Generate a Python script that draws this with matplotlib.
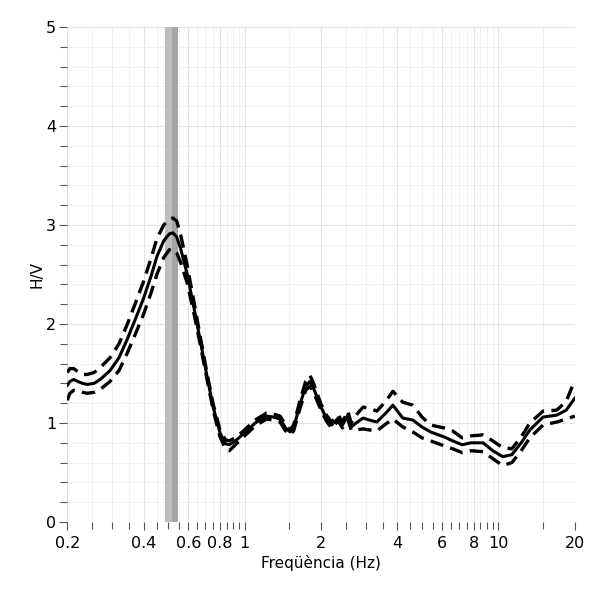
import matplotlib
matplotlib.use("Agg")
import matplotlib.pyplot as plt
from matplotlib.ticker import FixedLocator, NullFormatter

# H/V curve (frequency in Hz)
freq = [0.200, 0.205, 0.212, 0.220, 0.230, 0.240, 0.255, 0.270, 0.295, 0.320,
        0.344, 0.370, 0.400, 0.430, 0.451, 0.480, 0.505, 0.522, 0.540, 0.560,
        0.593, 0.630, 0.668, 0.710, 0.752, 0.800, 0.840, 0.870, 0.920, 1.000,
        1.100, 1.220, 1.300, 1.380, 1.450, 1.510, 1.560, 1.650, 1.740, 1.810,
        1.870, 2.000, 2.100, 2.200, 2.340, 2.430, 2.550, 2.630, 2.750, 2.930,
        3.100, 3.320, 3.600, 3.840, 4.200, 4.600, 5.000, 5.400, 6.100, 6.600,
        7.200, 7.800, 8.700, 9.500, 10.40, 11.30, 12.30, 13.30, 15.00, 17.00,
        18.50, 20.00]

hv_mean = [1.38, 1.42, 1.44, 1.42, 1.40, 1.39, 1.40, 1.44, 1.53, 1.66,
           1.84, 2.04, 2.26, 2.50, 2.68, 2.84, 2.91, 2.92, 2.88, 2.76,
           2.51, 2.18, 1.84, 1.48, 1.16, 0.90, 0.79, 0.78, 0.82, 0.90,
           1.00, 1.07, 1.06, 1.04, 0.95, 0.91, 0.95, 1.18, 1.37, 1.42,
           1.35, 1.16, 1.05, 0.98, 1.05, 0.98, 1.08, 0.96, 1.00, 1.05,
           1.03, 1.01, 1.10, 1.18, 1.05, 1.03, 0.96, 0.91, 0.86, 0.82,
           0.78, 0.80, 0.80, 0.72, 0.66, 0.68, 0.80, 0.93, 1.06, 1.08,
           1.13, 1.25]

hv_upper = [1.51, 1.55, 1.55, 1.52, 1.49, 1.49, 1.51, 1.56, 1.66, 1.80,
            1.99, 2.20, 2.43, 2.68, 2.86, 3.00, 3.06, 3.07, 3.04, 2.90,
            2.60, 2.24, 1.88, 1.51, 1.19, 0.93, 0.83, 0.82, 0.85, 0.93,
            1.03, 1.10, 1.09, 1.07, 0.98, 0.93, 0.98, 1.22, 1.42, 1.48,
            1.40, 1.19, 1.08, 1.01, 1.08, 1.01, 1.12, 1.00, 1.08, 1.16,
            1.15, 1.12, 1.22, 1.32, 1.21, 1.18, 1.06, 0.98, 0.95, 0.92,
            0.85, 0.87, 0.88, 0.82, 0.75, 0.74, 0.86, 1.00, 1.12, 1.13,
            1.22, 1.43]

hv_lower = [1.23, 1.30, 1.33, 1.32, 1.31, 1.30, 1.31, 1.34, 1.42, 1.53,
            1.70, 1.89, 2.10, 2.33, 2.50, 2.67, 2.75, 2.76, 2.72, 2.62,
            2.42, 2.12, 1.80, 1.45, 1.13, 0.86, 0.74, 0.72, 0.78, 0.87,
            0.97, 1.04, 1.03, 1.01, 0.92, 0.88, 0.92, 1.14, 1.33, 1.37,
            1.31, 1.13, 1.02, 0.95, 1.02, 0.95, 1.04, 0.93, 0.93, 0.94,
            0.93, 0.92, 0.99, 1.04, 0.96, 0.91, 0.85, 0.82, 0.77, 0.74,
            0.70, 0.72, 0.71, 0.64, 0.57, 0.60, 0.72, 0.85, 0.98, 1.01,
            1.04, 1.07]

# peak frequency and its spread (grey band)
f0_low = 0.486
f0 = 0.518
f0_high = 0.548

# tick positions / labels
x_major = [0.2, 0.4, 0.6, 0.8, 1, 2, 4, 6, 8, 10, 20]
x_major_labels = ["0.2", "0.4", "0.6", "0.8", "1", "2", "4", "6", "8", "10", "20"]
x_minor = [0.25, 0.3, 0.35, 0.45, 0.5, 0.55, 0.65, 0.7, 0.75, 0.85, 0.9, 0.95,
           1.5, 2.5, 3, 3.5, 4.5, 5, 5.5, 6.5, 7, 7.5, 8.5, 9, 9.5, 15]
y_major = [0, 1, 2, 3, 4, 5]
y_minor = [0.2, 0.4, 0.6, 0.8, 1.2, 1.4, 1.6, 1.8, 2.2, 2.4, 2.6, 2.8,
           3.2, 3.4, 3.6, 3.8, 4.2, 4.4, 4.6, 4.8]

fig = plt.figure(figsize=(6, 6), dpi=100)
ax = fig.add_axes([0.112, 0.13, 0.846, 0.825])

ax.set_xscale("log")
ax.set_xlim(0.2, 20)
ax.set_ylim(0, 5)

# grey band for f0
ax.axvspan(f0_low, f0, color="#bdbdbd", lw=0, zorder=1)
ax.axvspan(f0, f0_high, color="#a5a5a5", lw=0, zorder=1)

# curves
ax.plot(freq, hv_mean, color="black", lw=2.2, zorder=3)
ax.plot(freq, hv_upper, color="black", lw=2.4, ls=(0, (4, 2.2)), zorder=3)
ax.plot(freq, hv_lower, color="black", lw=2.4, ls=(0, (4, 2.2)), zorder=3)

# ticks
ax.xaxis.set_major_locator(FixedLocator(x_major))
ax.set_xticklabels(x_major_labels)
ax.xaxis.set_minor_locator(FixedLocator(x_minor))
ax.xaxis.set_minor_formatter(NullFormatter())
ax.yaxis.set_major_locator(FixedLocator(y_major))
ax.yaxis.set_minor_locator(FixedLocator(y_minor))

ax.tick_params(which="both", direction="out", color="#555555", width=0.8, labelsize=11.5)
ax.tick_params(which="major", length=6)
ax.tick_params(which="minor", length=5)
ax.tick_params(axis="x", pad=4)
ax.tick_params(axis="y", pad=2)

ax.grid(which="major", color="#e3e3e3", lw=0.8, zorder=0)
ax.grid(which="minor", color="#f0f0f0", lw=0.7, zorder=0)
ax.set_axisbelow(True)

for s in ax.spines.values():
    s.set_visible(False)

ax.set_xlabel("Freqüència (Hz)", fontsize=11, labelpad=3)
ax.set_ylabel("H/V", fontsize=11, labelpad=1)

fig.savefig("out.png", dpi=100, facecolor="white")
